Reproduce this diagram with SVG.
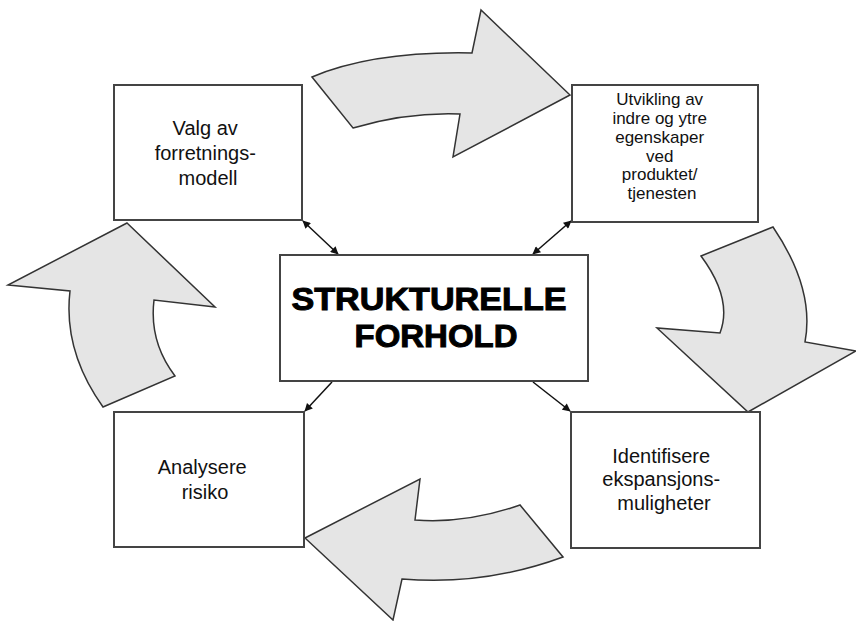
<svg xmlns="http://www.w3.org/2000/svg" width="856" height="621" viewBox="0 0 856 621">
  <style>
    .box { fill: #ffffff; stroke: #444444; stroke-width: 2; }
    .flow { fill: #e5e5e5; stroke: #333333; stroke-width: 1.5; stroke-linejoin: miter; }
    .lbl { font-family: "Liberation Sans", Arial, sans-serif; fill: #111111; text-anchor: middle; }
    .big { font-family: "Liberation Sans", Arial, sans-serif; font-weight: bold; fill: #000000; stroke: #000000; stroke-width: 1; text-anchor: middle; }
    .link { stroke: #111111; stroke-width: 1.5; fill: none; }
  </style>
  <defs>
    <marker id="head" viewBox="0 0 10 10" refX="9" refY="5" markerWidth="9" markerHeight="8" orient="auto-start-reverse" markerUnits="userSpaceOnUse">
      <path d="M0,0 L10,5 L0,10 Z" fill="#111111"/>
    </marker>
  </defs>

  <rect width="856" height="621" fill="#ffffff"/>

  <!-- curved cycle arrows -->
  <g id="cycle">
    <path class="flow" d="M312,77 Q374,51 472,53 L481,10 L570,95 L453,157 L460,114 Q407,112 353,128 Z"/>
    <path class="flow" d="M701,256 L773,227 Q815,289 805,342 L856,351 L748,412 L657,328 L720,333 Q733,299 701,256 Z"/>
    <path class="flow" d="M305,538 L420,479 L415,520 Q466,524 520,505 L563,557 Q484,586 402,579 L393,620 Z"/>
    <path class="flow" d="M127,223 L215,307 L154,300 Q149,342 175,376 L103,407 Q63,351 70,291 L8,285 Z"/>
  </g>

  <!-- connectors between the centre and the four boxes -->
  <g id="connectors">
    <line class="link" x1="303" y1="221" x2="338" y2="254" marker-start="url(#head)" marker-end="url(#head)"/>
    <line class="link" x1="571" y1="221" x2="533" y2="254" marker-start="url(#head)" marker-end="url(#head)"/>
    <line class="link" x1="332" y1="382" x2="305" y2="411" marker-end="url(#head)"/>
    <line class="link" x1="533" y1="382" x2="570" y2="411" marker-end="url(#head)"/>
  </g>

  <g id="node-center">
    <rect class="box" x="280" y="255" width="308" height="126"/>
    <text class="big" x="429" y="310" font-size="32" textLength="275" lengthAdjust="spacingAndGlyphs">STRUKTURELLE</text>
    <text class="big" x="436" y="347" font-size="32" textLength="163" lengthAdjust="spacingAndGlyphs">FORHOLD</text>
  </g>

  <g id="node-forretningsmodell">
    <rect class="box" x="114" y="85" width="188" height="135"/>
    <text class="lbl" font-size="20">
      <tspan x="208" y="135">Valg av</tspan>
      <tspan x="208" y="160">forretnings-</tspan>
      <tspan x="208" y="185">modell</tspan>
    </text>
  </g>

  <g id="node-utvikling">
    <rect class="box" x="572" y="85" width="186" height="137"/>
    <text class="lbl" font-size="17">
      <tspan x="662" y="105">Utvikling av</tspan>
      <tspan x="662" y="124">indre og ytre</tspan>
      <tspan x="662" y="143">egenskaper</tspan>
      <tspan x="662" y="162">ved</tspan>
      <tspan x="662" y="180">produktet/</tspan>
      <tspan x="662" y="199">tjenesten</tspan>
    </text>
  </g>

  <g id="node-risiko">
    <rect class="box" x="114" y="412" width="190" height="135"/>
    <text class="lbl" font-size="20">
      <tspan x="205" y="474">Analysere</tspan>
      <tspan x="205" y="499">risiko</tspan>
    </text>
  </g>

  <g id="node-ekspansjon">
    <rect class="box" x="571" y="412" width="189" height="136"/>
    <text class="lbl" font-size="20">
      <tspan x="664" y="463">Identifisere</tspan>
      <tspan x="664" y="486">ekspansjons-</tspan>
      <tspan x="664" y="510">muligheter</tspan>
    </text>
  </g>
</svg>
